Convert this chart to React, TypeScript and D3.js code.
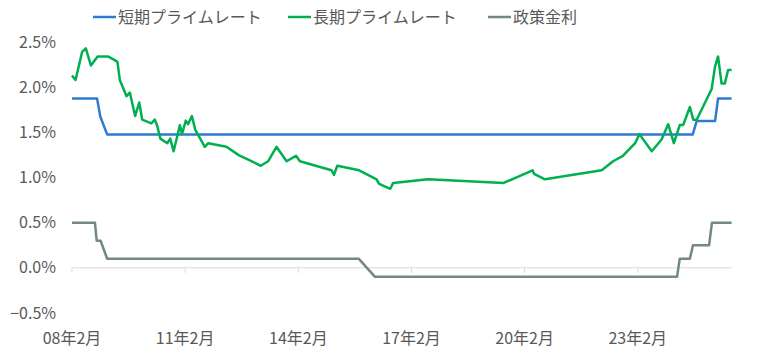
import React from "react";
import * as d3 from "d3";

const W = 760;
const H = 353;

// 短期プライムレート
const shortDates = ["2008-02-01", "2008-10-01", "2008-11-01", "2009-01-07", "2024-07-16", "2024-08-24", "2025-02-18", "2025-03-19", "2025-07-28"];
const shortValues = [1.875, 1.875, 1.675, 1.475, 1.475, 1.625, 1.625, 1.875, 1.875];

// 長期プライムレート
const longDates = [
  "2008-02-01", "2008-03-06", "2008-05-09", "2008-06-14", "2008-08-02", "2008-10-06", "2009-01-12", "2009-03-04",
  "2009-04-16", "2009-05-09", "2009-07-13", "2009-08-14", "2009-10-04", "2009-11-13", "2009-12-12", "2010-03-10",
  "2010-04-13", "2010-05-04", "2010-06-06", "2010-08-12", "2010-09-09", "2010-10-12", "2010-12-12", "2011-01-01",
  "2011-02-07", "2011-03-01", "2011-04-07", "2011-05-09", "2011-08-10", "2011-09-12", "2012-03-07", "2012-07-07",
  "2012-10-19", "2013-02-01", "2013-04-15", "2013-07-04", "2013-10-10", "2014-01-09", "2014-02-16", "2014-12-19",
  "2015-01-12", "2015-02-13", "2015-09-13", "2016-02-28", "2016-03-24", "2016-07-10", "2016-08-07", "2017-07-12",
  "2019-07-13", "2020-04-18", "2020-05-03", "2020-08-16", "2022-02-16", "2022-06-07", "2022-09-09", "2023-01-06",
  "2023-02-16", "2023-06-16", "2023-09-19", "2023-11-22", "2024-01-16", "2024-03-13", "2024-04-15", "2024-06-19",
  "2024-07-22", "2024-08-24", "2025-01-16", "2025-02-18", "2025-03-19", "2025-04-22", "2025-05-24", "2025-06-24",
  "2025-07-28",
];
const longValues = [
  2.13, 2.08, 2.39, 2.43, 2.24, 2.34, 2.34, 2.31,
  2.28, 2.08, 1.9, 1.94, 1.68, 1.83, 1.64, 1.6,
  1.64, 1.58, 1.43, 1.38, 1.43, 1.29, 1.58, 1.48,
  1.63, 1.59, 1.68, 1.53, 1.34, 1.38, 1.34, 1.245,
  1.19, 1.13, 1.18, 1.34, 1.18, 1.24, 1.18, 1.08,
  1.03, 1.13, 1.08, 0.98, 0.93, 0.875, 0.94, 0.98,
  0.94, 1.08, 1.04, 0.98, 1.08, 1.18, 1.24, 1.38,
  1.48, 1.29, 1.42, 1.59, 1.38, 1.58, 1.58, 1.78,
  1.64, 1.64, 1.98, 2.23, 2.34, 2.04, 2.04, 2.19,
  2.19,
];

// 政策金利
const policyDates = ["2008-02-01", "2008-09-10", "2008-09-27", "2008-11-04", "2009-01-07", "2015-09-10", "2016-02-13", "2024-02-16", "2024-03-13", "2024-06-19", "2024-07-19", "2024-12-22", "2025-01-19", "2025-07-28"];
const policyValues = [0.5, 0.5, 0.3, 0.3, 0.1, 0.1, -0.1, -0.1, 0.1, 0.1, 0.25, 0.25, 0.5, 0.5];

const yTicks = [2.5, 2.0, 1.5, 1.0, 0.5, 0.0, -0.5];
const xTickDates = ["2008-02-01", "2011-02-01", "2014-02-01", "2017-02-01", "2020-02-01", "2023-02-01"];
const xTickLabels = ["08年2月", "11年2月", "14年2月", "17年2月", "20年2月", "23年2月"];

const seriesNames = ["短期プライムレート", "長期プライムレート", "政策金利"];
const seriesColors = ["#2E7BCF", "#00B050", "#748787"];

const parse = d3.timeParse("%Y-%m-%d");

export default function App() {
  const x = d3
    .scaleTime()
    .domain([parse("2008-02-01")!, parse("2025-08-01")!])
    .range([72, 732]);
  const y = d3.scaleLinear().domain([-0.5, 2.5]).range([313, 42]);

  const mk = (dates: string[], vals: number[]) =>
    dates.map((d, i) => [parse(d)!, vals[i]] as [Date, number]);
  const series = [
    mk(shortDates, shortValues),
    mk(longDates, longValues),
    mk(policyDates, policyValues),
  ];
  const line = d3
    .line<[Date, number]>()
    .x((d) => x(d[0]))
    .y((d) => y(d[1]));

  const font = "'Noto Sans CJK JP', 'Noto Sans', sans-serif";
  const legendX = [93, 288, 488];

  return (
    <svg width={W} height={H} style={{ position: "absolute", left: 0, top: 0 }} fontFamily={font}>
      <rect width={W} height={H} fill="#fff" />
      {/* legend */}
      {seriesNames.map((n, i) => (
        <g key={n}>
          <line x1={legendX[i]} x2={legendX[i] + 23} y1={17} y2={17} stroke={seriesColors[i]} strokeWidth={2.5} />
          <text x={legendX[i] + 25} y={23} fontSize={16} fill="#595959">
            {n}
          </text>
        </g>
      ))}
      {/* y axis labels */}
      {yTicks.map((t) => (
        <text key={t} x={56} y={y(t) + 5.5} fontSize={16} fill="#595959" textAnchor="end">
          {d3.format(".1f")(t) + "%"}
        </text>
      ))}
      {/* x axis */}
      <line x1={72} x2={732} y1={y(0)} y2={y(0)} stroke="#D9D9D9" strokeWidth={1} />
      {xTickDates.map((d, i) => {
        const xx = x(parse(d)!);
        return (
          <g key={d}>
            <line x1={xx} x2={xx} y1={y(0)} y2={y(0) + 5} stroke="#D9D9D9" strokeWidth={1} />
            <text x={xx} y={344} fontSize={16} fill="#595959" textAnchor="middle">
              {xTickLabels[i]}
            </text>
          </g>
        );
      })}
      {/* lines */}
      {[2, 0, 1].map((i) => (
        <path
          key={i}
          d={line(series[i]) || ""}
          fill="none"
          stroke={seriesColors[i]}
          strokeWidth={2.5}
          strokeLinejoin="round"
        />
      ))}
    </svg>
  );
}
